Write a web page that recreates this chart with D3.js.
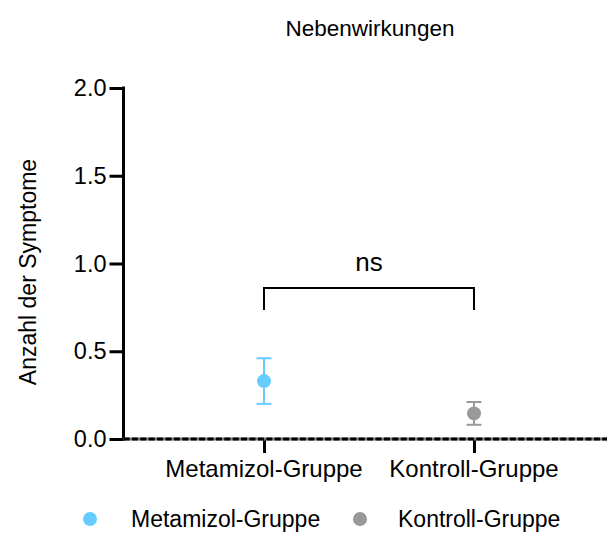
<!DOCTYPE html>
<html>
<head>
<meta charset="utf-8">
<script src="https://cdn.jsdelivr.net/npm/d3@7"></script>
<style>
  html, body { margin: 0; padding: 0; background: #fff; }
  svg { display: block; }
  text { font-family: "Liberation Sans", Arial, sans-serif; fill: #000; }
</style>
</head>
<body>
<svg id="chart" width="607" height="536"></svg>
<script>
// ---- data ----
const categories = ["Metamizol-Gruppe", "Kontroll-Gruppe"];
const means = [0.33, 0.146];
const errors = [0.13, 0.065];
const colors = ["#66CCFF", "#999999"];
const yTicks = [0, 0.5, 1.0, 1.5, 2.0];
const yDomain = [0, 2];
const titleText = "Nebenwirkungen";
const yLabelText = "Anzahl der Symptome";
const sigText = "ns";
const sigPair = ["Metamizol-Gruppe", "Kontroll-Gruppe"];
const sigLevel = 0.86;

// ---- layout ----
const W = 607, H = 536;
const axisX = 123.5;       // y axis position
const yTop = 88, yBot = 439;
const xFirst = 264, xLast = 474;

const svg = d3.select("#chart");

const y = d3.scaleLinear().domain(yDomain).range([yBot, yTop]);
const x = d3.scalePoint().domain(categories).range([xFirst, xLast]);

function addText(g, txt, tx, ty, size, anchor, rot) {
  return g.append("text")
    .attr("transform", `translate(${tx},${ty})` + (rot ? ` rotate(${rot})` : ""))
    .attr("font-size", size)
    .attr("text-anchor", anchor)
    .text(txt);
}

// title
addText(svg, titleText, 370, 36, 22.5, "middle", 0);

// y label
addText(svg, yLabelText, 36, 272, 23, "middle", -90);

// y axis
const yAxis = d3.axisLeft(y).tickValues(yTicks).tickFormat(d3.format(".1f")).tickSize(14).tickPadding(3);
const gy = svg.append("g").attr("transform", `translate(${axisX},0)`).call(yAxis);
gy.select(".domain").remove();
gy.selectAll(".tick line").attr("stroke", "#000").attr("stroke-width", 3);
gy.selectAll(".tick text")
  .attr("font-family", "Liberation Sans, Arial, sans-serif")
  .attr("font-size", 23.5)
  .attr("fill", "#000");
// y axis line
svg.append("line")
  .attr("x1", axisX).attr("x2", axisX)
  .attr("y1", y(yDomain[1]) - 1.5).attr("y2", y(yDomain[0]) + 1.5)
  .attr("stroke", "#000").attr("stroke-width", 3);

// x axis
const xAxis = d3.axisBottom(x).tickSize(14).tickPadding(0).tickFormat("");
const gx = svg.append("g").attr("transform", `translate(0,${y(0)})`).call(xAxis);
gx.select(".domain").remove();
gx.selectAll(".tick line").attr("stroke", "#000").attr("stroke-width", 3);
// x axis line (solid grey base + black dashes)
svg.append("line")
  .attr("x1", axisX).attr("x2", W)
  .attr("y1", y(0)).attr("y2", y(0))
  .attr("stroke", "#777").attr("stroke-width", 3);
svg.append("line")
  .attr("x1", axisX).attr("x2", W)
  .attr("y1", y(0)).attr("y2", y(0))
  .attr("stroke", "#000").attr("stroke-width", 3)
  .attr("stroke-dasharray", "6,2.4");

// x labels
categories.forEach(c => {
  addText(svg, c, x(c), 477, 24, "middle", 0);
});

// error bars + points
const capW = 15;
categories.forEach((c, i) => {
  const g = svg.append("g");
  const cx = x(c);
  const col = colors[i];
  g.append("line").attr("x1", cx).attr("x2", cx)
    .attr("y1", y(means[i] + errors[i])).attr("y2", y(means[i] - errors[i]))
    .attr("stroke", col).attr("stroke-width", 2);
  [means[i] + errors[i], means[i] - errors[i]].forEach(v => {
    g.append("line").attr("x1", cx - capW / 2).attr("x2", cx + capW / 2)
      .attr("y1", y(v)).attr("y2", y(v))
      .attr("stroke", col).attr("stroke-width", 2);
  });
  g.append("circle").attr("cx", cx).attr("cy", y(means[i])).attr("r", 7).attr("fill", col);
});

// significance bracket
const bx1 = x(sigPair[0]), bx2 = x(sigPair[1]);
const by = y(sigLevel);
svg.append("path")
  .attr("d", `M${bx1},${by + 22} V${by} H${bx2} V${by + 22}`)
  .attr("fill", "none").attr("stroke", "#000").attr("stroke-width", 2);
addText(svg, sigText, (bx1 + bx2) / 2, by - 17, 26, "middle", 0);

// legend
const legX = [90, 360];
const legTextX = [131, 398];
const legY = 519;
categories.forEach((c, i) => {
  svg.append("circle").attr("cx", legX[i]).attr("cy", legY).attr("r", 7).attr("fill", colors[i]);
  addText(svg, c, legTextX[i], legY + 8, 23, "start", 0);
});
</script>
</body>
</html>
